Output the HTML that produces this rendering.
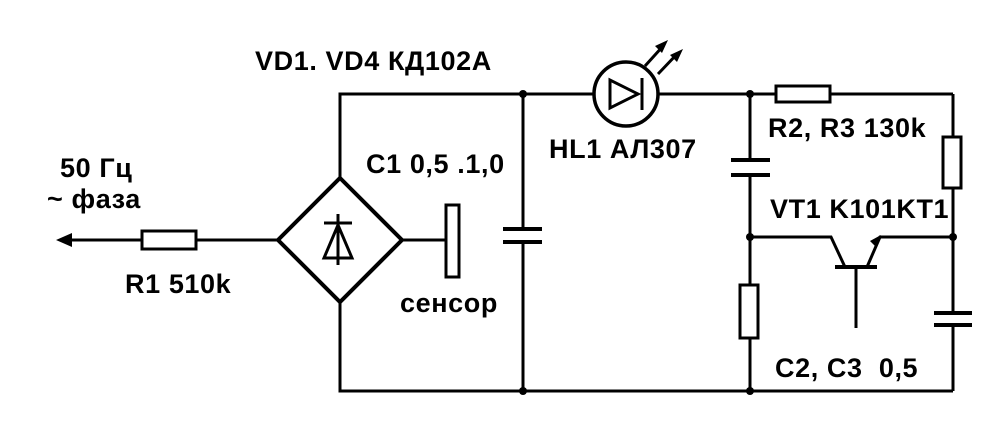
<!DOCTYPE html>
<html><head><meta charset="utf-8"><style>
html,body{margin:0;padding:0;background:#fff;width:1006px;height:422px;overflow:hidden}
svg{display:block}
text{font-family:"Liberation Sans","DejaVu Sans",sans-serif;font-weight:bold;font-size:27px;fill:#000;letter-spacing:0.6px}
</style></head><body>
<svg width="1006" height="422" viewBox="0 0 1006 422" xmlns="http://www.w3.org/2000/svg">
<g stroke="#000" stroke-width="3" fill="none">
<polyline points="340,178 340,94 776,94"/>
<line x1="830" y1="94" x2="953" y2="94"/>
<polyline points="340,302 340,391 953,391"/>
<polygon points="340,178 402,240 340,302 278,240" stroke-width="4"/>
<line x1="338" y1="214" x2="338" y2="265"/>
<line x1="324" y1="223" x2="352" y2="223"/>
<polygon points="338,225 324,258 352,258"/>
<line x1="66" y1="240" x2="142" y2="240"/>
<rect x="142" y="231" width="54" height="18"/>
<line x1="196" y1="240" x2="278" y2="240"/>
<line x1="402" y1="240" x2="446" y2="240"/>
<rect x="446" y="205" width="13" height="72"/>
<line x1="523" y1="94" x2="523" y2="229"/>
<line x1="503" y1="229" x2="542" y2="229" stroke-width="4"/>
<line x1="503" y1="242" x2="542" y2="242" stroke-width="4"/>
<line x1="523" y1="242" x2="523" y2="391"/>
<circle cx="626" cy="94" r="32" fill="#fff" stroke-width="3.5"/>
<polygon points="610,80 610,108 638,94"/>
<line x1="642" y1="78" x2="642" y2="110"/>
<line x1="645" y1="66" x2="664" y2="45"/>
<line x1="658" y1="74" x2="678" y2="53"/>
<rect x="776" y="86" width="54" height="16"/>
<line x1="953" y1="94" x2="953" y2="137"/>
<rect x="943" y="137" width="18" height="51"/>
<line x1="953" y1="188" x2="953" y2="313"/>
<line x1="934" y1="313" x2="972" y2="313" stroke-width="4"/>
<line x1="934" y1="325" x2="972" y2="325" stroke-width="4"/>
<line x1="953" y1="325" x2="953" y2="391"/>
<line x1="750" y1="94" x2="750" y2="160"/>
<line x1="731" y1="160" x2="770" y2="160" stroke-width="4"/>
<line x1="731" y1="175" x2="770" y2="175" stroke-width="4"/>
<line x1="750" y1="175" x2="750" y2="285"/>
<rect x="740" y="285" width="18" height="53"/>
<line x1="750" y1="338" x2="750" y2="391"/>
<polyline points="750,237 831,237 845,267"/>
<polyline points="953,237 880,237 867,267"/>
<line x1="835" y1="267" x2="877" y2="267" stroke-width="4"/>
<line x1="856" y1="267" x2="856" y2="328"/>
</g>
<g fill="#000">
<polygon points="56,240 72,233 72,247"/>
<polygon points="668,40 655,46 662,53"/>
<polygon points="683,49 670,55 677,62"/>
<polygon points="881,235 870,241 876,247"/>
<circle cx="523" cy="94" r="4"/><circle cx="750" cy="94" r="4"/>
<circle cx="750" cy="237" r="4"/><circle cx="953" cy="237" r="4"/>
<circle cx="523" cy="391" r="4"/><circle cx="750" cy="391" r="4"/>
</g>
<text x="255" y="70">VD1. VD4 КД102А</text>
<text x="60" y="177">50 Гц</text>
<text x="47" y="208">~ фаза</text>
<text x="125" y="293">R1 510k</text>
<text x="366" y="173">С1 0,5 .1,0</text>
<text x="400" y="312">сенсор</text>
<text x="549" y="158">HL1 АЛ307</text>
<text x="768" y="137">R2, R3 130k</text>
<text x="770" y="218">VT1 K101KT1</text>
<text x="775" y="377">С2, С3&#160;&#160;0,5</text>
</svg>
</body></html>
